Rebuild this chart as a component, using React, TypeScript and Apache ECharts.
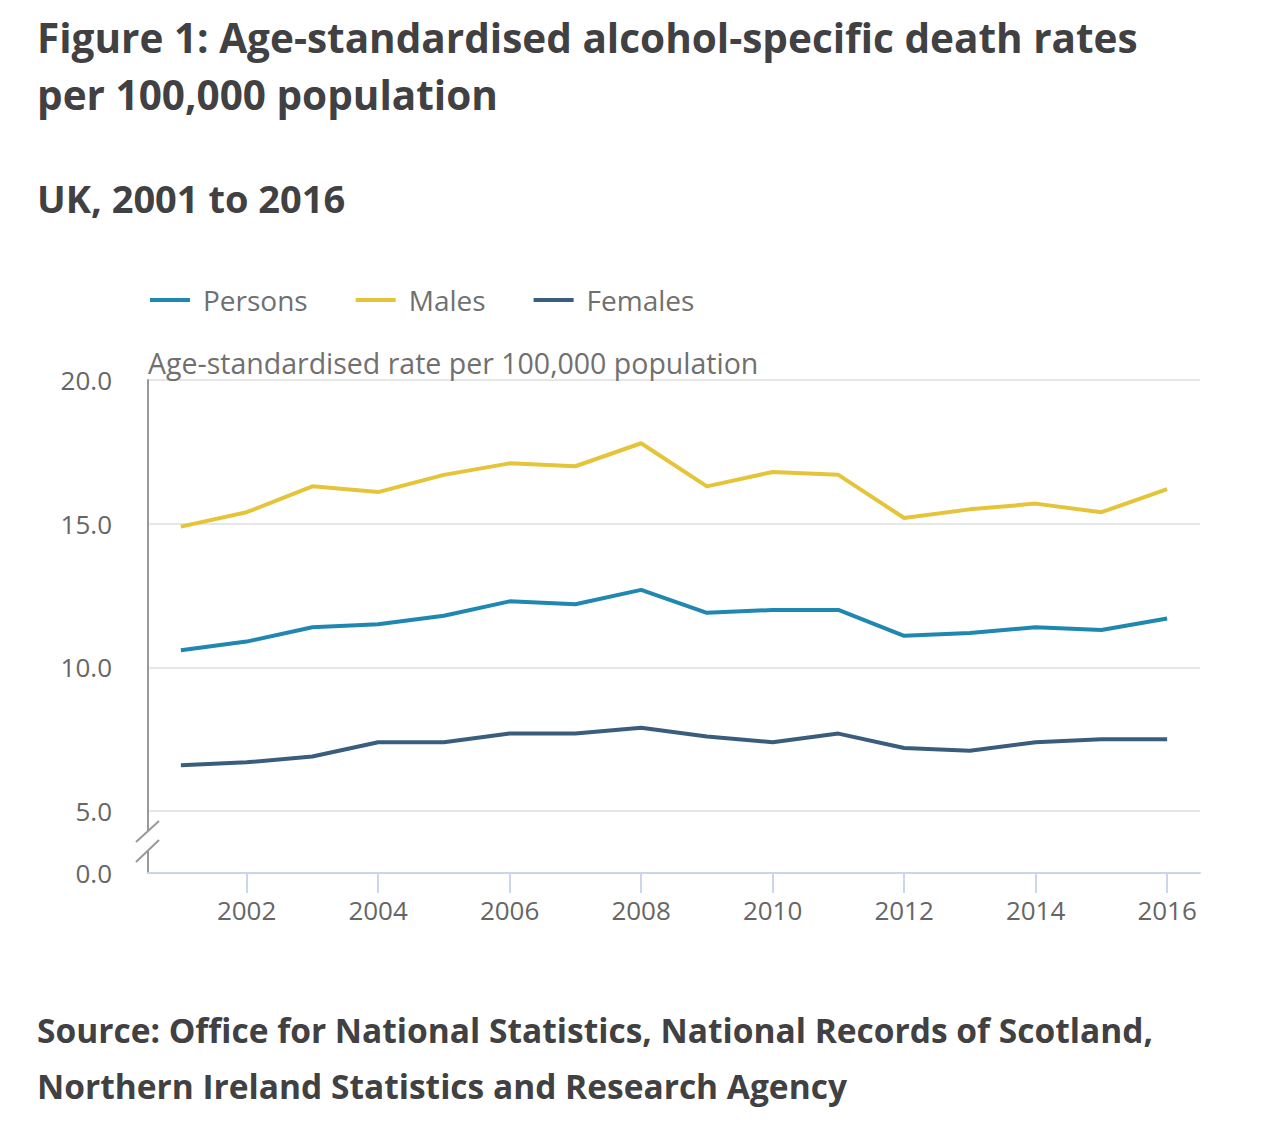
import React, { useEffect, useRef } from "react";
import * as echarts from "echarts";

const years = ["2001","2002","2003","2004","2005","2006","2007","2008","2009","2010","2011","2012","2013","2014","2015","2016"];
const persons = [10.6, 10.9, 11.4, 11.5, 11.8, 12.3, 12.2, 12.7, 11.9, 12.0, 12.0, 11.1, 11.2, 11.4, 11.3, 11.7];
const males = [14.9, 15.4, 16.3, 16.1, 16.7, 17.1, 17.0, 17.8, 16.3, 16.8, 16.7, 15.2, 15.5, 15.7, 15.4, 16.2];
const females = [6.6, 6.7, 6.9, 7.4, 7.4, 7.7, 7.7, 7.9, 7.6, 7.4, 7.7, 7.2, 7.1, 7.4, 7.5, 7.5];
const yTicks = [5, 10, 15, 20];
const yAxisBottom = 2.85; // value at the axis baseline, shown as "0.0" because of the axis break
const baselineLabel = "0.0";

const FONT = "'Open Sans', 'Noto Sans', sans-serif";

export default function App() {
  const ref = useRef<HTMLDivElement>(null);
  useEffect(() => {
    if (!ref.current) return;
    const chart = echarts.init(ref.current, undefined, { renderer: "svg" });
    chart.setOption({
      animation: false,
      backgroundColor: "#ffffff",
      textStyle: { fontFamily: FONT },
      title: [
        {
          text: "Figure 1: Age-standardised alcohol-specific death rates\nper 100,000 population",
          left: 29,
          top: 1,
          padding: 0,
          textStyle: { fontFamily: FONT, fontSize: 40.5, fontWeight: "bold", color: "#414042", lineHeight: 57 },
        },
        {
          text: "UK, 2001 to 2016",
          left: 29,
          top: 169,
          padding: 0,
          textStyle: { fontFamily: FONT, fontSize: 38, fontWeight: "bold", color: "#414042", lineHeight: 42 },
        },
        {
          text: "Source: Office for National Statistics, National Records of Scotland,\nNorthern Ireland Statistics and Research Agency",
          left: 29,
          top: 994,
          padding: 0,
          textStyle: { fontFamily: FONT, fontSize: 33.5, fontWeight: "bold", color: "#414042", lineHeight: 56 },
        },
      ],
      legend: {
        left: 142,
        top: 278,
        icon: "rect",
        itemWidth: 40,
        itemHeight: 4,
        itemGap: 48,
        padding: 0,
        textStyle: { fontFamily: FONT, fontSize: 28, color: "#707070", padding: [0, 0, 0, 8] },
        data: ["Persons", "Males", "Females"],
      },
      grid: { left: 140, right: 70, top: 372, bottom: 267, containLabel: false },
      xAxis: {
        type: "category",
        data: years,
        boundaryGap: true,
        axisLine: { show: true, lineStyle: { color: "#ccd6eb", width: 2 } },
        axisTick: {
          show: true,
          alignWithLabel: true,
          length: 20,
          interval: (i: number) => i % 2 === 1,
          lineStyle: { color: "#ccd6eb", width: 2 },
        },
        axisLabel: {
          interval: (i: number) => i % 2 === 1,
          margin: 24,
          fontFamily: FONT,
          fontSize: 26,
          color: "#666666",
        },
        splitLine: { show: false },
      },
      yAxis: {
        type: "value",
        min: yAxisBottom,
        max: 20,
        name: "Age-standardised rate per 100,000 population",
        nameLocation: "end",
        nameGap: 3,
        nameTextStyle: { fontFamily: FONT, fontSize: 28.5, color: "#707070", align: "left", verticalAlign: "bottom", padding: [0, 0, 0, 0] },
        axisLine: { show: true, lineStyle: { color: "#999999", width: 2 } },
        axisTick: { show: false, customValues: yTicks },
        axisLabel: {
          customValues: [yAxisBottom, ...yTicks],
          formatter: (v: number) => (v < yTicks[0] ? baselineLabel : v.toFixed(1)),
          margin: 36,
          fontFamily: FONT,
          fontSize: 26,
          color: "#666666",
        },
        splitLine: { show: true, lineStyle: { color: "#e6e6e6", width: 2 } },
      },
      graphic: [
        { type: "rect", shape: { x: 137, y: 823, width: 6, height: 20 }, style: { fill: "#ffffff" }, z: 100 },
        { type: "line", shape: { x1: 128, y1: 834, x2: 151, y2: 813 }, style: { stroke: "#999999", lineWidth: 2 }, z: 101 },
        { type: "line", shape: { x1: 128, y1: 854, x2: 151, y2: 832 }, style: { stroke: "#999999", lineWidth: 2 }, z: 101 },
      ],
      series: [
        { name: "Persons", type: "line", data: persons, symbol: "none", color: "#1f87b0", lineStyle: { width: 4, color: "#1f87b0" } },
        { name: "Males", type: "line", data: males, symbol: "none", color: "#e6c43a", lineStyle: { width: 4, color: "#e6c43a" } },
        { name: "Females", type: "line", data: females, symbol: "none", color: "#3a5d7e", lineStyle: { width: 4, color: "#3a5d7e" } },
      ],
    });
    return () => chart.dispose();
  }, []);
  return <div ref={ref} style={{ width: 1262, height: 1132 }} />;
}
